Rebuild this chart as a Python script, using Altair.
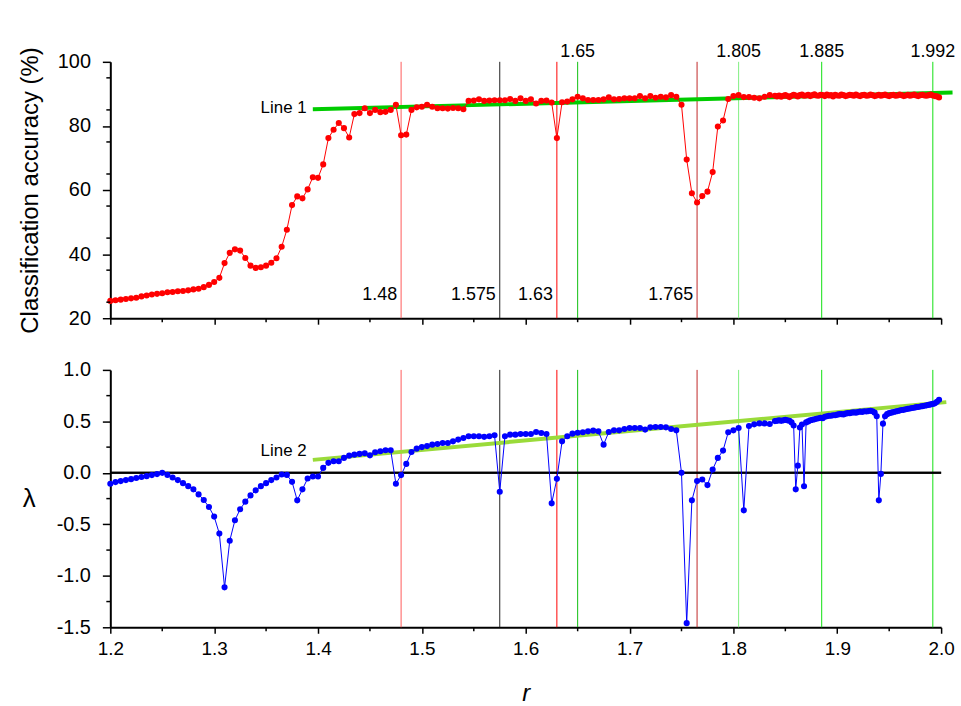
import altair as alt
import pandas as pd

# ---------------- data ----------------
r_coarse = [round(1.2 + 0.005 * i, 3) for i in range(129)]   # 1.200 ... 1.840
r_dense = [round(1.842 + 0.002 * i, 3) for i in range(79)]   # 1.842 ... 1.998
r_values = r_coarse + r_dense

acc_coarse = [
    25.4, 25.6, 25.8, 26.0, 26.2, 26.4, 26.8, 27.1, 27.4, 27.6,
    27.8, 28.1, 28.2, 28.4, 28.5, 28.7, 29.0, 29.2, 29.7, 30.4,
    31.3, 32.6,
    37.2, 40.4, 41.5, 41.1, 38.8, 36.4, 35.7, 35.9, 36.4, 37.3,
    38.7, 42.3, 47.6, 55.3, 58.0, 57.4, 60.2, 64.0, 63.8, 68.0,
    76.2, 78.8, 80.9, 79.3, 76.4, 83.7, 84.0, 85.5, 84.0, 85.0,
    84.3, 84.4, 85.0, 86.6,
    77.1, 77.3, 85.0, 85.8, 86.0, 86.6, 86.0, 85.5, 85.5, 85.4,
    85.6, 85.5, 85.2, 87.8, 87.9, 88.3, 87.8, 87.9, 88.0, 88.0,
    88.0, 88.4, 87.8, 88.6, 87.8, 88.3, 87.0, 87.8, 87.9, 87.3,
    76.2, 87.4, 87.6, 88.3, 89.1, 88.6, 88.1, 88.1, 88.1, 88.3,
    88.9, 88.3, 88.4, 88.6, 88.6, 88.6, 89.3, 88.6, 89.3, 88.8,
    89.1, 88.9, 89.6, 89.1, 86.6, 69.5, 59.0, 56.1, 58.1, 59.5,
    65.6, 79.8, 81.7, 88.4, 89.3, 89.6, 89.0, 89.0, 88.8, 88.6,
    89.1, 89.6, 89.4,
]
acc_dense = [
    89.2, 89.5, 89.1, 89.4, 89.6, 89.3, 89.0, 89.4, 89.7, 89.5,
    89.2, 89.6, 89.8, 89.4, 89.5, 89.7, 89.3, 89.6, 89.9, 89.5,
    89.4, 89.7, 89.6, 89.3, 89.8, 89.5, 89.6, 89.2, 89.7, 89.5,
    89.4, 89.8, 89.6, 89.3, 89.5, 89.7, 89.6, 89.4, 89.8, 89.5,
    89.3, 89.6, 89.7, 89.4, 89.5, 89.8, 89.6, 89.3, 89.5, 89.7,
    89.4, 89.6, 89.8, 89.5, 89.3, 89.6, 89.7, 89.4, 89.5, 89.8,
    89.6, 89.3, 89.5, 89.7, 89.4, 89.6, 89.8, 89.5, 89.3, 89.6,
    89.7, 89.5, 89.4, 89.6, 89.8, 89.5, 89.3, 89.2, 88.9,
]

lam_coarse = [
    -0.106, -0.09, -0.08, -0.07, -0.061, -0.05, -0.04, -0.032, -0.022, -0.012,
    0.0, -0.02, -0.045, -0.07, -0.1, -0.129, -0.16, -0.209, -0.264, -0.332,
    -0.425, -0.59, -1.112,
    -0.66, -0.46, -0.354, -0.28, -0.219, -0.17, -0.129, -0.1, -0.07, -0.045,
    -0.016, -0.02, -0.087, -0.267, -0.16, -0.055, -0.035, -0.035, 0.048, 0.097,
    0.113, 0.113, 0.145, 0.167, 0.177, 0.184, 0.19, 0.17, 0.2, 0.21,
    0.22, 0.22, -0.106,
    -0.022, 0.087, 0.203, 0.235, 0.25, 0.26, 0.274, 0.28, 0.29, 0.29,
    0.306, 0.323, 0.339, 0.355, 0.355, 0.355, 0.35, 0.355, 0.365, -0.183,
    0.355, 0.371, 0.371, 0.377, 0.377, 0.377, 0.397, 0.387, 0.377, -0.296,
    -0.058, 0.306, 0.355, 0.381, 0.39, 0.394, 0.403, 0.41, 0.403, 0.274,
    0.397, 0.413, 0.413, 0.426, 0.436, 0.436, 0.436, 0.42, 0.442, 0.445,
    0.445, 0.442, 0.426, 0.413, 0.0, -1.46, -0.267, -0.08, -0.065, -0.119,
    0.032, 0.145, 0.216, 0.394, 0.413, 0.436, -0.364, 0.455, 0.471, 0.48,
    0.48, 0.474, 0.503,
]
lam_dense = [
    0.505, 0.51, 0.505, 0.51, 0.515, 0.51, 0.505, 0.49, 0.46, -0.16,
    0.07, 0.44, 0.47, -0.13, 0.49, 0.5, 0.51, 0.515, 0.52, 0.525,
    0.53, 0.535, 0.53, 0.545, 0.55, 0.555, 0.555, 0.56, 0.56, 0.565,
    0.57, 0.57, 0.568, 0.575, 0.58, 0.58, 0.585, 0.588, 0.585, 0.59,
    0.595, 0.592, 0.598, 0.596, 0.6, 0.603, 0.598, 0.585, 0.55, -0.267,
    -0.01, 0.478, 0.55, 0.57, 0.58, 0.585, 0.59, 0.595, 0.6, 0.605,
    0.61, 0.612, 0.618, 0.622, 0.625, 0.63, 0.632, 0.638, 0.64, 0.645,
    0.648, 0.652, 0.656, 0.66, 0.665, 0.67, 0.675, 0.69, 0.71,
]

vline_r = [1.48, 1.575, 1.63, 1.65, 1.765, 1.805, 1.885, 1.992]
vline_color = ["#FF5A5A", "#202020", "#FF0000", "#10C010", "#C02828", "#80EE80", "#10E010", "#10E010"]

low_label_r = [1.48, 1.575, 1.63, 1.765]
low_label_text = ["1.48", "1.575", "1.63", "1.765"]
low_label_acc = [25.6, 25.6, 25.6, 25.6]

top_label_r = [1.65, 1.805, 1.885, 1.992]
top_label_text = ["1.65", "1.805", "1.885", "1.992"]
top_label_acc = [100, 100, 100, 100]

line1_r = [1.395, 2.011]
line1_acc = [85.2, 90.4]
line2_r = [1.395, 2.005]
line2_lam = [0.126, 0.687]

line1_label = {"r": [1.389], "acc": [85.7], "t": ["Line 1"]}
line2_label = {"r": [1.389], "lam": [0.21], "t": ["Line 2"]}

x_major = [1.2, 1.3, 1.4, 1.5, 1.6, 1.7, 1.8, 1.9, 2.0]
x_minor = [1.25, 1.35, 1.45, 1.55, 1.65, 1.75, 1.85, 1.95]
acc_major = [20, 30, 40, 50, 60, 70, 80, 90, 100]
acc_minor = [25, 35, 45, 55, 65, 75, 85, 95]
lam_major = [-1.5, -1.0, -0.5, 0.0, 0.5, 1.0]
lam_minor = [-1.25, -0.75, -0.25, 0.25, 0.75]

# ---------------- frames ----------------
df_acc = pd.DataFrame({"r": r_values, "acc": acc_coarse + acc_dense})
df_lam = pd.DataFrame({"r": r_values, "lam": lam_coarse + lam_dense})
df_v = pd.DataFrame({"r": vline_r, "c": vline_color})
df_low = pd.DataFrame({"r": low_label_r, "acc": low_label_acc, "t": low_label_text})
df_toplab = pd.DataFrame({"r": top_label_r, "acc": top_label_acc, "t": top_label_text})
df_l1 = pd.DataFrame({"r": line1_r, "acc": line1_acc})
df_l2 = pd.DataFrame({"r": line2_r, "lam": line2_lam})
df_l1t = pd.DataFrame(line1_label)
df_l2t = pd.DataFrame(line2_label)
df_xminor = pd.DataFrame({"r": x_minor})
df_accminor = pd.DataFrame({"acc": acc_minor})
df_lamminor = pd.DataFrame({"lam": lam_minor})

W = 836
H_TOP = 258
H_BOT = 259
FONT = "Liberation Sans"
NARROW = "Liberation Sans Narrow, Arial Narrow, Liberation Sans"

xs = alt.Scale(domain=[1.2, 2.0], nice=False, zero=False)
ys_top = alt.Scale(domain=[20, 100], nice=False, zero=False)
ys_bot = alt.Scale(domain=[-1.5, 1.0], nice=False, zero=False)

x_axis_top = alt.Axis(values=x_major, labels=False, title=None, tickSize=6)
x_axis_bot = alt.Axis(values=x_major, title="r", titleFontStyle="italic", titleFontSize=24,
                      titlePadding=24, labelFont=NARROW, labelFontSize=19, labelPadding=6,
                      format=".1f", tickSize=6)
y_axis_top = alt.Axis(values=acc_major, title="Classification accuracy (%)", titleFontSize=24,
                      titleAngle=270, titleX=-80, titleY=H_TOP / 2, titleAlign="center",
                      titleBaseline="middle", labelFontSize=20, labelPadding=12,
                      format="d", tickSize=8)
y_axis_bot = alt.Axis(values=lam_major, title="λ", titleFontSize=26,
                      titleAngle=0, titleX=-82, titleY=H_BOT / 2, titleAlign="center",
                      titleBaseline="middle", labelFontSize=20, labelPadding=12,
                      labelExpr="(datum.value < 0 ? '-' : '') + format(abs(datum.value), '.1f')",
                      tickSize=8)


def X(axis=None):
    if axis is None:
        return alt.X("r:Q", scale=xs, title="r")
    return alt.X("r:Q", scale=xs, axis=axis)


def YT(axis=None):
    if axis is None:
        return alt.Y("acc:Q", scale=ys_top, title="Classification accuracy (%)")
    return alt.Y("acc:Q", scale=ys_top, axis=axis)


def YB(axis=None):
    if axis is None:
        return alt.Y("lam:Q", scale=ys_bot, title="λ")
    return alt.Y("lam:Q", scale=ys_bot, axis=axis)


def minor_x(height):
    return alt.Chart(df_xminor).mark_rule(color="black", strokeWidth=1.5, clip=False).encode(
        x=X(), y=alt.value(height), y2=alt.value(height + 4))


def minor_y(df, yenc):
    return alt.Chart(df).mark_rule(color="black", strokeWidth=1.5, clip=False).encode(
        y=yenc, x=alt.value(0), x2=alt.value(-4))


# ---------------- top panel ----------------
top_line = alt.Chart(df_acc).mark_line(color="#FF0000", strokeWidth=1).encode(
    x=X(x_axis_top), y=YT(y_axis_top))
top_vlines = alt.Chart(df_v).mark_rule(strokeWidth=1).encode(
    x=X(), color=alt.Color("c:N", scale=None))
top_trend = alt.Chart(df_l1).mark_line(color="#00CC00", strokeWidth=4, clip=False).encode(
    x=X(), y=YT())
top_pts = alt.Chart(df_acc).mark_circle(color="#FF0000", size=38, opacity=1).encode(
    x=X(), y=YT())
top_low_text = alt.Chart(df_low).mark_text(align="right", baseline="alphabetic", dx=-4,
                                           fontSize=18, font=FONT, color="black").encode(
    x=X(), y=YT(), text="t:N")
top_top_text = alt.Chart(df_toplab).mark_text(align="center", baseline="alphabetic", dy=-5,
                                              fontSize=18, font=FONT, color="black", clip=False).encode(
    x=X(), y=YT(), text="t:N")
top_l1_text = alt.Chart(df_l1t).mark_text(align="right", baseline="middle",
                                          fontSize=17, font=FONT, color="black").encode(
    x=X(), y=YT(), text="t:N")

top = alt.layer(top_vlines, top_trend, top_line, top_pts, top_low_text, top_top_text,
                top_l1_text, minor_x(H_TOP), minor_y(df_accminor, YT())
                ).properties(width=W, height=H_TOP)

# ---------------- bottom panel ----------------
bot_line = alt.Chart(df_lam).mark_line(color="#0000FF", strokeWidth=1).encode(
    x=X(x_axis_bot), y=YB(y_axis_bot))
bot_vlines = alt.Chart(df_v).mark_rule(strokeWidth=1).encode(
    x=X(), color=alt.Color("c:N", scale=None))
bot_zero = alt.Chart(df_l2).mark_rule(color="black", strokeWidth=2).encode(
    y=alt.YDatum(0, scale=ys_bot, title="λ"))
bot_trend = alt.Chart(df_l2).mark_line(color="#9ADB3A", strokeWidth=4, clip=False).encode(
    x=X(), y=YB())
bot_pts = alt.Chart(df_lam).mark_circle(color="#0000FF", size=38, opacity=1).encode(
    x=X(), y=YB())
bot_l2_text = alt.Chart(df_l2t).mark_text(align="right", baseline="middle",
                                          fontSize=17, font=FONT, color="black").encode(
    x=X(), y=YB(), text="t:N")

bottom = alt.layer(bot_vlines, bot_zero, bot_trend, bot_line, bot_pts,
                   bot_l2_text, minor_x(H_BOT), minor_y(df_lamminor, YB())
                   ).properties(width=W, height=H_BOT)

chart = (
    alt.vconcat(top, bottom, spacing=26)
    .resolve_scale(x="independent", y="independent")
    .properties(padding={"left": 18, "top": 41, "right": 0, "bottom": 0}, background="white")
    .configure(font=FONT)
    .configure_view(stroke=None)
    .configure_axis(grid=False, domainColor="black", domainWidth=2, tickColor="black",
                    tickWidth=1.5, labelColor="black", titleColor="black", labelFont=FONT,
                    titleFontWeight="normal", titleFont=FONT, labelOverlap=False, labelFlush=False)
)

chart.save("out.html", embed_options={"renderer": "svg", "actions": False})
